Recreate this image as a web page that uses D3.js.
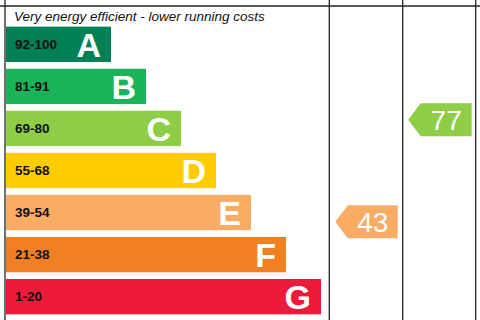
<!DOCTYPE html>
<html>
<head>
<meta charset="utf-8">
<script src="https://cdn.jsdelivr.net/npm/d3@7"></script>
<style>
  body { margin: 0; background: #fff; }
  svg { display: block; font-family: "Liberation Sans", Arial, sans-serif; }
</style>
</head>
<body>
<div></div>
<script>
var width = 480;
var height = 320;

// bands, top (most efficient) first
var bands = ["A", "B", "C", "D", "E", "F", "G"];
var ranges = ["92-100", "81-91", "69-80", "55-68", "39-54", "21-38", "1-20"];
var bandMax = [100, 91, 80, 68, 54, 38, 20];
var bandMin = [92, 81, 69, 55, 39, 21, 1];
var colors = ["#008054", "#19b459", "#8dce46", "#ffcc00", "#f9ac64", "#f08022", "#ec1a3b"];

// scores shown in the two columns
var current = 43;
var potential = 77;

var svg = d3.select("div")
    .append("svg")
    .attr("width", width)
    .attr("height", height);

var y = d3.scaleBand()
    .domain(bands)
    .range([23.3, 317.7])
    .paddingInner(0.16)
    .paddingOuter(0.08);

// right edge of each bar grows with the band index
var x = d3.scaleLinear()
    .domain([0, bands.length - 1])
    .range([111, 321]);

// score -> vertical position, piecewise through the band slots
var scoreDomain = bandMax.map(function (d) { return d + 0.5; }).concat([bandMin[6] - 0.5]);
var scoreRange = bands.map(function (b) { return y(b) - y.step() * y.paddingInner() / 2; })
    .concat([y("G") + y.bandwidth() + y.step() * y.paddingInner() / 2]);
var yScore = d3.scaleLinear().domain(scoreDomain).range(scoreRange);

function bandOf(score) {
    for (var i = 0; i < bands.length; i++) {
        if (score >= bandMin[i]) return i;
    }
    return bands.length - 1;
}

var left = 6;

var rows = svg.selectAll("g.band")
    .data(bands)
    .enter()
    .append("g")
    .attr("class", "band");

rows.append("rect")
    .attr("x", left)
    .attr("y", function (d) { return y(d); })
    .attr("width", function (d, i) { return x(i) - left; })
    .attr("height", y.bandwidth())
    .attr("fill", function (d, i) { return colors[i]; });

rows.append("text")
    .attr("x", 15)
    .attr("y", function (d) { return y(d) + y.bandwidth() / 2 + 4.8; })
    .attr("font-size", 13.5)
    .attr("font-weight", "bold")
    .attr("fill", "#111")
    .text(function (d, i) { return ranges[i]; });

rows.append("text")
    .attr("x", function (d, i) { return x(i) - 10; })
    .attr("y", function (d) { return y(d) + y.bandwidth() / 2 + 12.3; })
    .attr("text-anchor", "end")
    .attr("font-size", 34)
    .attr("font-weight", "bold")
    .attr("fill", "#fff")
    .text(function (d) { return d; });

svg.append("text")
    .attr("x", 14)
    .attr("y", 21)
    .attr("font-size", 13.5)
    .attr("font-style", "italic")
    .attr("fill", "#111")
    .text("Very energy efficient - lower running costs");

// table lines
var cols = [5, 329.3, 402.7, 475.7];
svg.append("line")
    .attr("x1", 0).attr("x2", width)
    .attr("y1", 6).attr("y2", 6)
    .attr("stroke", "#222").attr("stroke-width", 1.3);
svg.selectAll("line.col")
    .data(cols)
    .enter()
    .append("line")
    .attr("class", "col")
    .attr("x1", function (d) { return d; })
    .attr("x2", function (d) { return d; })
    .attr("y1", 0).attr("y2", height)
    .attr("stroke", "#222").attr("stroke-width", 1.3);

function arrow(score, x0, x1) {
    var cy = yScore(score);
    var h = 33;
    var head = 12.5;
    var c = colors[bandOf(score)];
    var pts = [[x0, cy], [x0 + head, cy - h / 2], [x1, cy - h / 2], [x1, cy + h / 2], [x0 + head, cy + h / 2]];
    svg.append("polygon")
        .attr("points", pts.map(function (p) { return p.join(","); }).join(" "))
        .attr("fill", c);
    svg.append("text")
        .attr("x", (x0 + head + x1) / 2)
        .attr("y", cy + 10)
        .attr("text-anchor", "middle")
        .attr("font-size", 28)
        .attr("fill", "#fff")
        .text(score);
}

arrow(current, cols[1] + 6, cols[2] - 5);
arrow(potential, cols[2] + 5.5, cols[3] - 4);
</script>
</body>
</html>
